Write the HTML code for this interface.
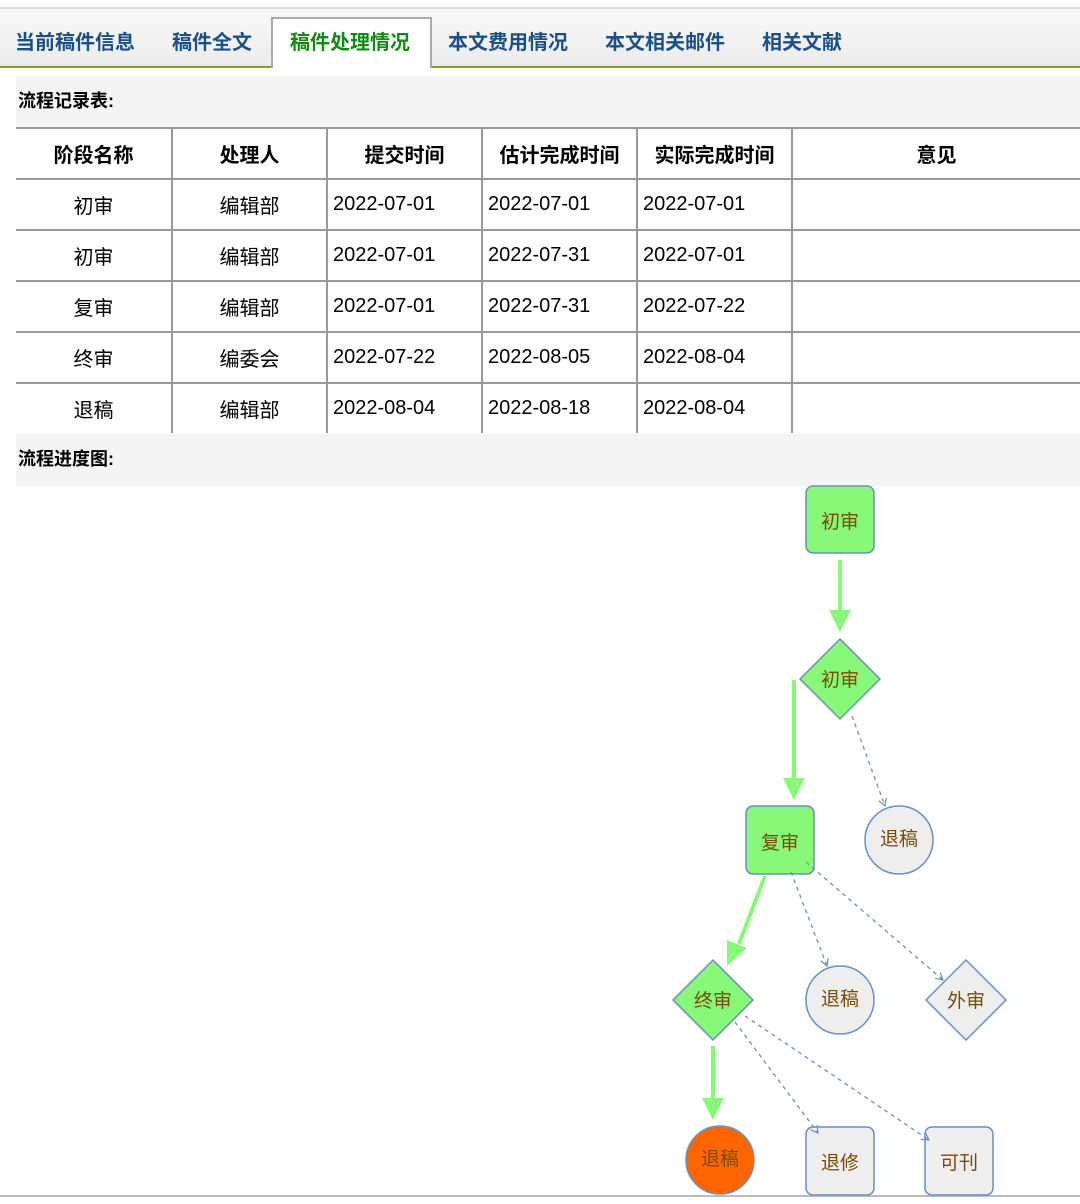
<!DOCTYPE html>
<html><head><meta charset="utf-8"><style>
body{margin:0;width:1080px;height:1204px;background:#fff;font-family:"Liberation Sans","Noto Sans CJK SC",sans-serif;position:relative;overflow:hidden}
.tabs{position:absolute;left:0;top:7px;width:1080px;height:57px;background:linear-gradient(#f8f8f8,#ececec);border-top:2px solid #ddd;border-bottom:2px solid #8a9a2a}
.tab{position:absolute;top:17px;font-size:20px;font-weight:bold;color:#1a4f8a}
.act{position:absolute;left:271px;top:8px;width:157px;height:49px;background:#fff;border:2px solid #aaa;border-bottom:none}
.hdr{position:absolute;left:16px;width:1064px;background:#f4f4f4;font-size:18px;font-weight:bold;line-height:50px;padding-left:2px;box-sizing:border-box}
table{position:absolute;left:16px;top:127px;border-collapse:collapse;width:1064px}
td{border-top:2px solid #999;border-bottom:2px solid #999;border-left:2px solid #999;height:49px;font-size:20px;padding:0;text-align:center;box-sizing:content-box}
td:first-child{border-left:none}
tr.h td{font-weight:bold}
td.l{text-align:left;padding-left:5px}
</style></head><body>
<div class="tabs"><div class="act"></div>
<span class="tab" style="left:15px">当前稿件信息</span>
<span class="tab" style="left:172px">稿件全文</span>
<span class="tab" style="left:290px;color:#138a13">稿件处理情况</span>
<span class="tab" style="left:448px">本文费用情况</span>
<span class="tab" style="left:605px">本文相关邮件</span>
<span class="tab" style="left:762px">相关文献</span>
</div>
<div class="hdr" style="top:76px;height:51px">流程记录表:</div>
<table>
<tr class="h"><td style="width:155px">阶段名称</td><td style="width:153px">处理人</td><td style="width:153px">提交时间</td><td style="width:153px">估计完成时间</td><td style="width:153px">实际完成时间</td><td>意见</td></tr>
<tr><td>初审</td><td>编辑部</td><td class="l">2022-07-01</td><td class="l">2022-07-01</td><td class="l">2022-07-01</td><td></td></tr>
<tr><td>初审</td><td>编辑部</td><td class="l">2022-07-01</td><td class="l">2022-07-31</td><td class="l">2022-07-01</td><td></td></tr>
<tr><td>复审</td><td>编辑部</td><td class="l">2022-07-01</td><td class="l">2022-07-31</td><td class="l">2022-07-22</td><td></td></tr>
<tr><td>终审</td><td>编委会</td><td class="l">2022-07-22</td><td class="l">2022-08-05</td><td class="l">2022-08-04</td><td></td></tr>
<tr><td style="border-bottom:none">退稿</td><td style="border-bottom:none">编辑部</td><td class="l" style="border-bottom:none">2022-08-04</td><td class="l" style="border-bottom:none">2022-08-18</td><td class="l" style="border-bottom:none">2022-08-04</td><td style="border-bottom:none"></td></tr>
</table>
<div class="hdr" style="top:434px;height:52px">流程进度图:</div>
<div style="position:absolute;left:0;top:1195px;width:1080px;height:2px;background:#bbb"></div>
<svg width="1080" height="1204" style="position:absolute;left:0;top:0">
<defs><marker id="o" markerWidth="10" markerHeight="10" refX="8" refY="5" orient="auto" markerUnits="userSpaceOnUse"><path d="M1,1 L8,5 L1,9" fill="none" stroke="#6c8ebf" stroke-width="1.2"/></marker></defs>
<g stroke="#88f878" stroke-width="4" fill="#88f878">
<line x1="840" y1="560" x2="840" y2="612"/><polygon points="829,610 851,610 840,632" stroke="none"/>
<line x1="794" y1="680" x2="794" y2="780"/><polygon points="783,778 805,778 794,800" stroke="none"/>
<line x1="765" y1="876" x2="739" y2="944"/><polygon points="727,940 747,948 727,966" stroke="none"/>
<line x1="713" y1="1046" x2="713" y2="1100"/><polygon points="702,1098 724,1098 713,1120" stroke="none"/>
</g>
<g stroke="#6c8ebf" stroke-width="1.5">
<rect x="806" y="486" width="68" height="67" rx="7" fill="#88f878"/>
<polygon points="840,639 880,679 840,719 800,679" fill="#88f878"/>
<rect x="746" y="806" width="68" height="68" rx="7" fill="#88f878"/>
<circle cx="899" cy="840" r="34" fill="#eee"/>
<polygon points="713,960 753,1000 713,1040 673,1000" fill="#88f878"/>
<circle cx="840" cy="1000" r="34" fill="#eee"/>
<polygon points="966,960 1006,1000 966,1040 926,1000" fill="#eee"/>
<circle cx="720" cy="1160" r="34" fill="#ff6600"/>
<rect x="806" y="1127" width="68" height="68" rx="7" fill="#eee"/>
<rect x="925" y="1127" width="68" height="68" rx="7" fill="#eee"/>
</g>
<g stroke="#6c8ebf" stroke-width="1.3" stroke-dasharray="4,4" fill="none" marker-end="url(#o)">
<line x1="852" y1="716" x2="885" y2="806"/>
<line x1="791" y1="872" x2="827" y2="966"/>
<line x1="806" y1="862" x2="943" y2="980"/>
<line x1="735" y1="1022" x2="818" y2="1133"/>
<line x1="745" y1="1016" x2="929" y2="1140"/>
</g>
<g font-size="19" fill="#7a4a00" text-anchor="middle" font-family="Liberation Sans,Noto Sans CJK SC,sans-serif">
<text x="840" y="528">初审</text><text x="840" y="686">初审</text><text x="780" y="849">复审</text>
<text x="899" y="845">退稿</text><text x="713" y="1007">终审</text><text x="840" y="1005">退稿</text>
<text x="966" y="1007">外审</text><text x="720" y="1165">退稿</text><text x="840" y="1169">退修</text><text x="959" y="1169">可刊</text>
</g>
</svg>
</body></html>
